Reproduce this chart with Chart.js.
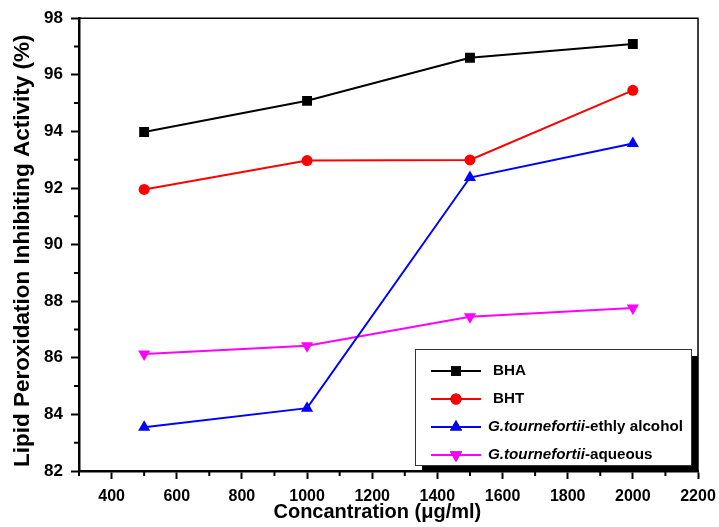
<!DOCTYPE html>
<html><head><meta charset="utf-8">
<script src="https://cdn.jsdelivr.net/npm/chart.js@4/dist/chart.umd.min.js"></script>
<style>html,body{margin:0;padding:0;background:#fff;}#wrap{width:719px;height:527px;}</style>
</head><body><div id="wrap"><canvas id="c" width="719" height="527"></canvas></div>
<script>
const concentrations = [500, 1000, 1500, 2000];
const bha = [93.98, 95.08, 96.6, 97.09];
const bht = [91.95, 92.97, 92.99, 95.45];
const ethyl = [83.55, 84.22, 92.37, 93.57];
const aqueous = [86.13, 86.43, 87.45, 87.76];
const xTickValues = [400, 600, 800, 1000, 1200, 1400, 1600, 1800, 2000, 2200];
const xMinorTicks = [300, 500, 700, 900, 1100, 1300, 1500, 1700, 1900, 2100];
const yTickValues = [82, 84, 86, 88, 90, 92, 94, 96, 98];
const yMinorTicks = [83, 85, 87, 89, 91, 93, 95, 97];
const seriesNames = ['BHA', 'BHT', 'G.tournefortii-ethly alcohol', 'G.tournefortii-aqueous'];

const FONT = "'Liberation Sans', Arial, sans-serif";

function pts(vals){ return concentrations.map((x,i)=>({x:x,y:vals[i]})); }

const frameAndMinor = {
  id:'frameAndMinor',
  afterDraw(chart){
    const ctx = chart.ctx, a = chart.chartArea;
    const xs = chart.scales.x, ys = chart.scales.y;
    ctx.save();
    ctx.strokeStyle = '#000';
    ctx.lineWidth = 1.5;
    ctx.beginPath();
    ctx.moveTo(a.left, a.top); ctx.lineTo(a.right, a.top); ctx.lineTo(a.right, a.bottom);
    ctx.stroke();
    ctx.lineWidth = 2;
    ctx.beginPath();
    xMinorTicks.forEach(v=>{ const p = xs.getPixelForValue(v); ctx.moveTo(p, a.bottom); ctx.lineTo(p, a.bottom+5); });
    yMinorTicks.forEach(v=>{ const p = ys.getPixelForValue(v); ctx.moveTo(a.left, p); ctx.lineTo(a.left-5, p); });
    ctx.stroke();
    ctx.restore();
  }
};

const customLegend = {
  id:'customLegend',
  afterDatasetsDraw(chart){
    const ctx = chart.ctx, a = chart.chartArea;
    const right = a.right - 7, bottom = a.bottom - 6;
    const w = 276, h = 116;
    const left = right - w, top = bottom - h;
    ctx.save();
    ctx.fillStyle = '#000';
    ctx.fillRect(left+7, top+7, w, h);
    ctx.fillStyle = '#fff';
    ctx.fillRect(left, top, w, h);
    ctx.strokeStyle = '#333';
    ctx.lineWidth = 1;
    ctx.strokeRect(left+0.5, top+0.5, w, h);
    chart.data.datasets.forEach((ds, i)=>{
      const y = top + 22 + i*28;
      ctx.strokeStyle = ds.borderColor;
      ctx.lineWidth = 2;
      ctx.beginPath(); ctx.moveTo(left+16, y); ctx.lineTo(left+66, y); ctx.stroke();
      Chart.helpers.drawPoint(ctx, {pointStyle: ds.pointStyle, rotation: ds.pointRotation||0, radius: ds.pointRadius, borderWidth: 0}, left+41, y);
      ctx.fillStyle = ds.backgroundColor;
      ctx.fill();
      ctx.fillStyle = '#000';
      ctx.textBaseline = 'middle';
      const name = seriesNames[i];
      const fs = '15.2px ';
      if (name.startsWith('G.tournefortii')) {
        const ital = 'G.tournefortii';
        ctx.font = 'italic bold ' + fs + FONT;
        ctx.fillText(ital, left+73, y);
        const wI = ctx.measureText(ital).width;
        ctx.font = 'bold ' + fs + FONT;
        ctx.fillText(name.slice(ital.length), left+73+wI, y);
      } else {
        ctx.font = 'bold ' + fs + FONT;
        ctx.fillText(name, left+78, y);
      }
    });
    ctx.restore();
  }
};

const colors = ['#000000', '#ff0000', '#0000ff', '#ff00ff'];
const styles = ['rect', 'circle', 'triangle', 'triangle'];
const radii = [7, 5.5, 7, 7];
const rots = [0, 0, 0, 180];
const series = [bha, bht, ethyl, aqueous];

new Chart(document.getElementById('c'), {
  type: 'line',
  data: {
    datasets: series.map((s,i)=>({
      label: seriesNames[i],
      data: pts(s),
      borderColor: colors[i],
      backgroundColor: colors[i],
      borderWidth: 2,
      pointStyle: styles[i],
      pointRotation: rots[i],
      pointRadius: radii[i],
      pointBorderWidth: 0,
      tension: 0
    }))
  },
  options: {
    responsive: false,
    animation: false,
    layout: { padding: { top: 16, right: 21, left: 0, bottom: 0 } },
    plugins: { legend: { display: false }, tooltip: { enabled: false } },
    scales: {
      x: {
        type: 'linear', min: 300, max: 2200,
        afterBuildTicks(scale){ scale.ticks = xTickValues.map(v=>({value:v})); },
        afterFit(scale){ scale.height = 56; scale.paddingRight = 0; scale.paddingLeft = 0; },
        grid: { drawOnChartArea: false, drawTicks: true, tickLength: 8, tickWidth: 2, tickColor: '#000' },
        border: { display: true, color: '#000', width: 2.5 },
        ticks: { color: '#000', padding: 7.5, maxRotation: 0, autoSkip: false, callback: v => String(v), font: { family: FONT, size: 16, weight: 'bold' } },
        title: { display: true, text: 'Concantration (μg/ml)\u00a0\u00a0\u00a0\u00a0', color: '#000', padding: { top: 0, bottom: 2.5 }, font: { family: FONT, size: 20, weight: 'bold' } }
      },
      y: {
        type: 'linear', min: 82, max: 98,
        afterBuildTicks(scale){ scale.ticks = yTickValues.map(v=>({value:v})); },
        afterFit(scale){ scale.width = 79; },
        grid: { drawOnChartArea: false, drawTicks: true, tickLength: 8, tickWidth: 2, tickColor: '#000' },
        border: { display: true, color: '#000', width: 2.5 },
        ticks: { color: '#000', padding: 8, autoSkip: false, font: { family: FONT, size: 17, weight: 'bold' } },
        title: { display: true, text: 'Lipid Peroxidation Inhibiting Activity (%)\u00a0\u00a0', color: '#000', padding: { top: 9, bottom: 0 }, font: { family: FONT, size: 22.5, weight: 'bold' } }
      }
    }
  },
  plugins: [frameAndMinor, customLegend]
});
</script></body></html>
